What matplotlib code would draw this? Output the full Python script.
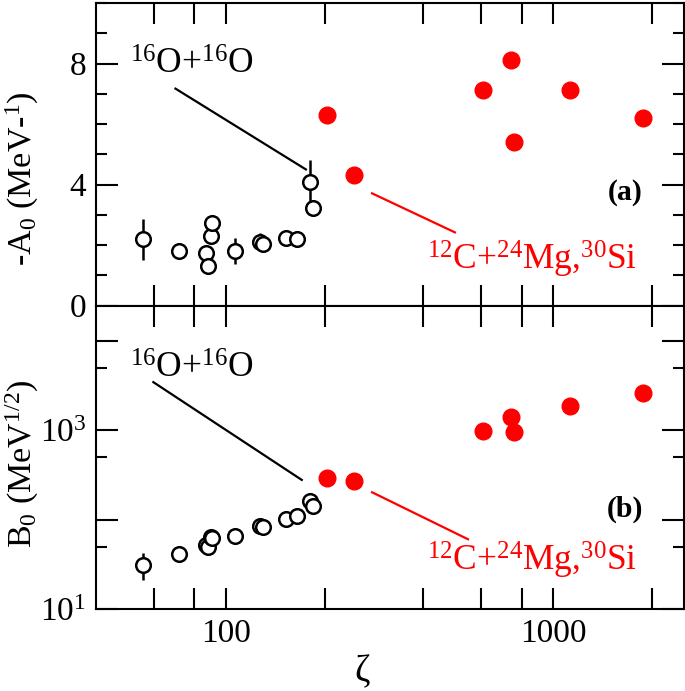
import numpy as np
import matplotlib
matplotlib.use("Agg")
from matplotlib import pyplot as plt
from matplotlib import ticker

plt.rcParams['font.family'] = ['Liberation Serif', 'DejaVu Serif']
plt.rcParams['mathtext.fontset'] = 'custom'
plt.rcParams['mathtext.rm'] = 'Liberation Serif'
plt.rcParams['mathtext.it'] = 'Liberation Serif:italic'
plt.rcParams['mathtext.bf'] = 'Liberation Serif:bold'

# 16O+16O (open circles)
zeta_oo = [55.7, 71.6, 86.6, 88.1, 89.6, 90.6, 106.3, 126.9, 129.3, 152.1, 164.4, 180.6, 184.9]
a0_oo   = [2.19, 1.80, 1.73, 1.31, 2.30, 2.72, 1.80, 2.11, 2.02, 2.22, 2.19, 4.09, 3.24]
a0_err  = [0.68, 0.0, 0.0, 0.0, 0.0, 0.0, 0.43, 0.30, 0.0, 0.0, 0.0, 0.71, 0.0]
b0_oo   = [31, 41, 52, 50, 64, 62, 65, 85, 82, 102, 111, 162, 144]
b0_lo   = [10, 0, 0, 0, 0, 0, 0, 0, 0, 0, 0, 0, 0]
b0_hi   = [11, 0, 0, 0, 0, 0, 0, 0, 0, 0, 0, 0, 0]

# 12C+24Mg,30Si (filled red)
zeta_c = [203.2, 245.3, 611.8, 745.3, 759.2, 1122.6, 1875.0]
a0_c   = [6.31, 4.33, 7.11, 8.12, 5.41, 7.11, 6.21]
b0_c   = [296, 272, 989, 1397, 957, 1854, 2618]

label_oo = r"$^{16}$O+$^{16}$O"
label_c  = r"$^{12}$C+$^{24}$Mg,$^{30}$Si"

fig = plt.figure(figsize=(6.85, 6.91), dpi=100)
ax1 = fig.add_axes([0.1401, 0.5577, 0.8584, 0.4380])
ax2 = fig.add_axes([0.1401, 0.1187, 0.8584, 0.4390], sharex=ax1)

for ax in (ax1, ax2):
    for s in ax.spines.values():
        s.set_linewidth(1.5)
    ax.set_xscale('log')
    ax.tick_params(which='both', direction='in', top=True, right=True,
                   width=1.5, labelsize=24)
    ax.tick_params(axis='x', which='both', length=15, pad=7)
    ax.tick_params(axis='y', which='major', length=16, pad=7)
    ax.tick_params(axis='y', which='minor', length=8)

ax1.set_xlim(40, 2510)
ax1.xaxis.set_major_locator(ticker.FixedLocator([100, 1000]))
ax1.xaxis.set_minor_locator(ticker.FixedLocator([60, 80, 200, 400, 600, 800, 2000]))
ax1.xaxis.set_minor_formatter(ticker.NullFormatter())
ax1.xaxis.set_major_formatter(ticker.FixedFormatter(['100', '1000']))
plt.setp(ax1.get_xticklabels(), visible=False)

# panel (a)
ax1.errorbar(zeta_oo, a0_oo, yerr=a0_err, fmt='o', ms=10.5, mfc='white',
             mec='black', mew=1.8, ecolor='black', elinewidth=1.8, capsize=0, zorder=3)
ax1.plot(zeta_c, a0_c, 'o', color='red', ms=12, zorder=3)
ax1.set_ylim(0, 10)
ax1.yaxis.set_major_locator(ticker.FixedLocator([0, 4, 8]))
ax1.yaxis.set_minor_locator(ticker.MultipleLocator(1))
ax1.set_ylabel(r"-A$_0$ (MeV-$^{1}$)", fontsize=24.5)
ax1.yaxis.set_label_coords(-0.093, 0.42)

ax1.text(50.7, 7.67, label_oo, fontsize=25.5, va='baseline')
ax1.plot([70.0, 175.3], [7.17, 4.50], color='black', lw=1.6)
ax1.text(411.9, 1.18, label_c, fontsize=25.5, va='baseline', color='red')
ax1.plot([279.3, 500.6], [3.71, 2.42], color='red', lw=1.6)
ax1.text(0.929, 0.349, "(a)", transform=ax1.transAxes, fontsize=21.5,
         fontweight='bold', ha='right', va='baseline')

# panel (b)
ax2.errorbar(zeta_oo, b0_oo, yerr=[b0_lo, b0_hi], fmt='o', ms=10.5, mfc='white',
             mec='black', mew=1.8, ecolor='black', elinewidth=1.8, capsize=0, zorder=3)
ax2.plot(zeta_c, b0_c, 'o', color='red', ms=12, zorder=3)
ax2.set_yscale('log')
ax2.set_ylim(10, 2.5e4)
ax2.yaxis.set_major_locator(ticker.FixedLocator([10, 100, 1000, 10000]))
ax2.yaxis.set_major_formatter(ticker.FixedFormatter([r"10$^{1}$", "", r"10$^{3}$", ""]))
ax2.yaxis.set_minor_locator(ticker.FixedLocator([50, 500, 5000]))
ax2.yaxis.set_minor_formatter(ticker.NullFormatter())
ax2.set_ylabel(r"B$_0$ (MeV$^{1/2}$)", fontsize=24.5)
ax2.yaxis.set_label_coords(-0.093, 0.48)
ax2.set_xlabel("ζ", fontsize=27)
ax2.xaxis.set_label_coords(0.452, -0.15)

ax2.text(50.7, 3855, label_oo, fontsize=25.5, va='baseline')
ax2.plot([59.9, 170.3], [3475, 279], color='black', lw=1.6)
ax2.text(411, 26.8, label_c, fontsize=25.5, va='baseline', color='red')
ax2.plot([279.3, 548.7], [203, 60.4], color='red', lw=1.6)
ax2.text(0.930, 0.304, "(b)", transform=ax2.transAxes, fontsize=21.5,
         fontweight='bold', ha='right', va='baseline')

fig.savefig("out.png", dpi=100)
